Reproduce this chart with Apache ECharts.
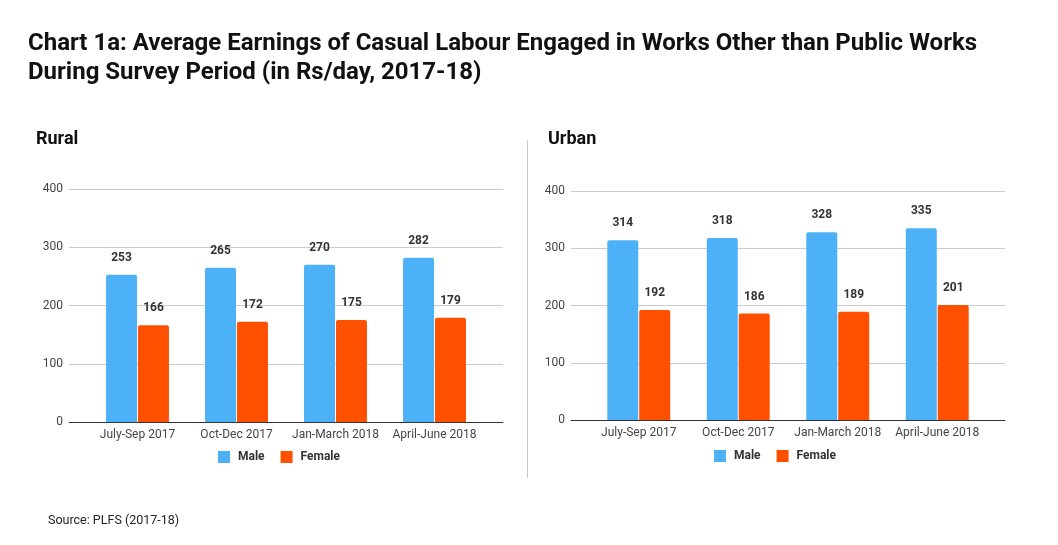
<!DOCTYPE html>
<html>
<head>
<meta charset="utf-8">
<script src="https://cdn.jsdelivr.net/npm/echarts@6/dist/echarts.min.js"></script>
<style>html,body{margin:0;padding:0;background:#fff;}#c{width:1058px;height:545px;}</style>
</head>
<body>
<div id="c"></div>
<script>
const categories = ['July-Sep 2017', 'Oct-Dec 2017', 'Jan-March 2018', 'April-June 2018'];
const ruralMale = [253, 265, 270, 282];
const ruralFemale = [166, 172, 175, 179];
const urbanMale = [314, 318, 328, 335];
const urbanFemale = [192, 186, 189, 201];
const yTicks = { min: 0, max: 400, interval: 100 };

const MALE = '#4db1f8';
const FEMALE = '#ff5000';
const FONT = 'Roboto';

const chart = echarts.init(document.getElementById('c'));

function linesAxes(gridIndex) {
  return {
    x: { gridIndex, type: 'value', min: 0, max: 1, axisLine: { show: true, onZero: false, lineStyle: { color: '#333', width: 1 } }, axisTick: { show: false }, axisLabel: { show: false }, splitLine: { show: false } },
    y: { gridIndex, type: 'value', min: yTicks.min, max: yTicks.max, interval: yTicks.interval, axisLine: { show: false }, axisTick: { show: false }, axisLabel: { color: '#444', fontSize: 12, fontFamily: FONT, margin: 6 }, splitLine: { lineStyle: { color: '#cccccc', width: 1 } } }
  };
}
function barAxes(gridIndex) {
  return {
    x: { gridIndex, type: 'category', data: categories, axisLine: { show: false }, axisTick: { show: false }, axisLabel: { color: '#444', fontSize: 12, fontFamily: FONT, margin: 7, interval: 0 } },
    y: { gridIndex, type: 'value', min: yTicks.min, max: yTicks.max, show: false }
  };
}
const a0 = linesAxes(0), a1 = barAxes(1), a2 = linesAxes(2), a3 = barAxes(3);

function barSeries(name, data, color, axisIdx) {
  return {
    name, type: 'bar', data, xAxisIndex: axisIdx, yAxisIndex: axisIdx,
    barWidth: 31, barGap: '3%',
    itemStyle: { color, borderRadius: [2, 2, 0, 0] },
    label: { show: true, position: 'top', distance: 11, color: '#333', fontWeight: 'bold', fontSize: 12, fontFamily: FONT },
    silent: true
  };
}
const legendCommon = { data: ['Male', 'Female'], itemWidth: 12, itemHeight: 12, itemGap: 16, icon: 'rect',
  textStyle: { color: '#333', fontWeight: 'bold', fontSize: 12, fontFamily: FONT, padding: [0, 0, 0, 3] }, selectedMode: false };

chart.setOption({
  animation: false,
  title: [
    { text: 'Chart 1a: Average Earnings of Casual Labour Engaged in Works Other than Public Works\nDuring Survey Period (in Rs/day, 2017-18)', left: 28, top: 29, padding: 0,
      textStyle: { fontFamily: FONT, fontWeight: 'bold', fontSize: 24, lineHeight: 29, color: '#111' } },
    { text: 'Rural', left: 36, top: 130, padding: 0, textStyle: { fontFamily: FONT, fontWeight: 'bold', fontSize: 18, color: '#111' } },
    { text: 'Urban', left: 548, top: 130, padding: 0, textStyle: { fontFamily: FONT, fontWeight: 'bold', fontSize: 18, color: '#111' } },
    { text: 'Source: PLFS (2017-18)', left: 48, top: 514, padding: 0, textStyle: { fontFamily: FONT, fontWeight: 'normal', fontSize: 12.5, color: '#222' } }
  ],
  legend: [
    Object.assign({ left: 218, top: 451, padding: 0 }, legendCommon),
    Object.assign({ left: 714, top: 450, padding: 0 }, legendCommon)
  ],
  grid: [
    { left: 69, width: 434, top: 189, height: 233 },
    { left: 88, width: 396, top: 189, height: 233 },
    { left: 571, width: 434, top: 191, height: 229 },
    { left: 589, width: 398, top: 191, height: 229 }
  ],
  xAxis: [a0.x, a1.x, a2.x, a3.x],
  yAxis: [a0.y, a1.y, a2.y, a3.y],
  series: [
    barSeries('Male', ruralMale, MALE, 1),
    barSeries('Female', ruralFemale, FEMALE, 1),
    barSeries('Male', urbanMale, MALE, 3),
    barSeries('Female', urbanFemale, FEMALE, 3)
  ],
  graphic: [
    { type: 'line', shape: { x1: 527.5, y1: 140, x2: 527.5, y2: 478 }, style: { stroke: '#c8c8c8', lineWidth: 1 } }
  ]
});
</script>
</body>
</html>
